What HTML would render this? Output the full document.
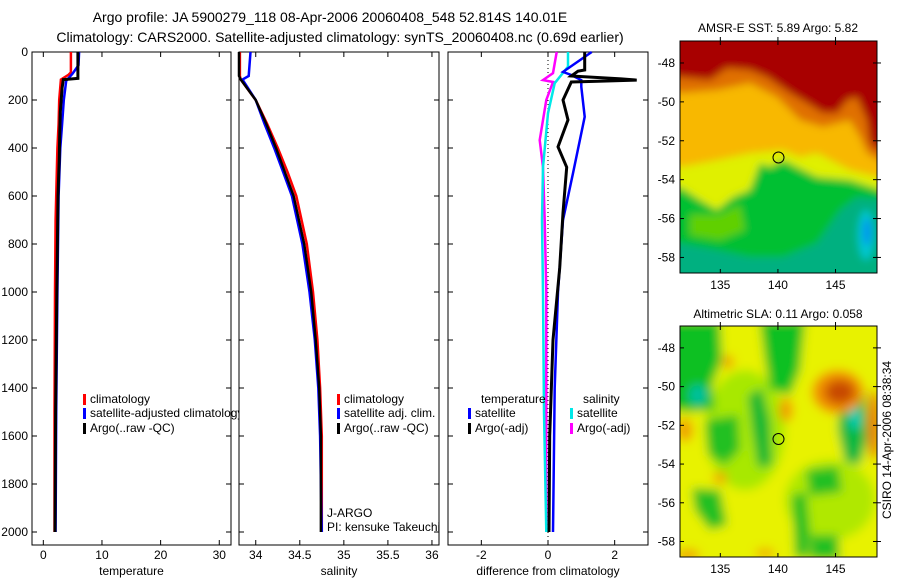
<!DOCTYPE html>
<html><head><meta charset="utf-8">
<style>
html,body{margin:0;padding:0;background:#fff;}
svg{display:block;font-family:"Liberation Sans",sans-serif;}
text{fill:#000;}
</style></head>
<body>
<svg id="fig" width="900" height="580" viewBox="0 0 900 580" xmlns="http://www.w3.org/2000/svg">
<defs>
<filter id="blur" x="-20%" y="-20%" width="140%" height="140%"><feGaussianBlur stdDeviation="4"/></filter>
<filter id="blur2" x="-20%" y="-20%" width="140%" height="140%"><feGaussianBlur stdDeviation="5"/></filter>
<clipPath id="clipMap1"><rect x="680" y="41" width="197" height="232"/></clipPath>
<clipPath id="clipMap2"><rect x="680" y="326" width="197" height="231"/></clipPath>
</defs>
<text x="330" y="22" font-size="14" text-anchor="middle">Argo profile: JA 5900279_118 08-Apr-2006 20060408_548 52.814S 140.01E</text>
<text x="340" y="42" font-size="14" text-anchor="middle">Climatology: CARS2000. Satellite-adjusted climatology: synTS_20060408.nc (0.69d earlier)</text>

<!-- Map 1 -->
<g>
<text x="778" y="32" font-size="12" text-anchor="middle">AMSR-E SST: 5.89 Argo: 5.82</text>
<g clip-path="url(#clipMap1)">
<g filter="url(#blur)">
<rect x="670" y="30" width="220" height="260" fill="#00b080"/>
<polygon fill="#00c030" points="670,190 680,187 700,200 717,210 733,197 750,190 760,163 770,167 783,160 797,167 817,177 850,180 890,193 890,200 857,197 840,210 817,243 783,257 750,257 717,250 680,243 670,243"/>
<polygon fill="#60d000" points="690,215 720,215 740,205 745,230 720,240 690,235"/>
<polygon fill="#e0f000" points="670,160 680,167 717,160 750,153 783,150 800,157 817,153 850,170 890,180 890,193 850,180 817,177 797,167 783,160 770,167 760,163 750,190 733,197 717,210 700,200 680,187 670,190"/>
<polygon fill="#f8b800" points="670,90 680,93 717,90 750,83 777,97 800,120 823,127 850,120 860,137 867,153 890,167 890,180 850,170 817,153 800,157 783,150 750,153 717,160 680,167 670,160"/>
<polygon fill="#e07000" points="670,78 680,77 710,80 727,68 750,70 767,77 790,93 807,103 823,113 837,113 847,100 857,97 867,120 870,143 890,150 890,167 867,153 860,137 850,120 823,127 800,120 777,97 750,83 717,90 680,93 670,90"/>
<polygon fill="#a80000" points="670,30 890,30 890,150 877,150 870,143 867,120 857,97 847,100 837,113 823,113 807,103 790,93 767,77 750,70 727,68 710,80 680,77 670,78"/>
<ellipse cx="866" cy="235" rx="8" ry="25" fill="#00c8d0"/>
<ellipse cx="867" cy="232" rx="4" ry="14" fill="#0090f0"/>
</g>
</g>
<rect x="680" y="41" width="197" height="232" fill="none" stroke="#000" stroke-width="1"/>
<g id="map1axes"></g>
<circle cx="778.5" cy="157.5" r="5.5" fill="none" stroke="#000" stroke-width="1"/>
</g>

<!-- Map 2 -->
<g>
<text x="778" y="318" font-size="12" text-anchor="middle">Altimetric SLA: 0.11 Argo: 0.058</text>
<g clip-path="url(#clipMap2)">
<g filter="url(#blur2)">
<rect x="670" y="316" width="220" height="250" fill="#e8f200"/>
<ellipse cx="745" cy="430" rx="40" ry="60" fill="#a8e800"/>
<ellipse cx="830" cy="500" rx="45" ry="40" fill="#b0e800"/>
<polygon fill="#10c020" points="670,320 720,320 722,360 712,385 715,410 690,412 670,410"/>
<ellipse cx="698" cy="395" rx="9" ry="10" fill="#00c0a0"/>
<polygon fill="#10c020" points="760,320 805,320 800,370 790,395 770,390 765,360"/>
<polygon fill="#10b830" points="748,395 762,388 770,420 772,465 758,468 752,430"/>
<polygon fill="#20c020" points="705,420 738,415 740,450 725,465 708,455"/>
<polygon fill="#20c020" points="692,488 720,490 727,525 710,530 695,510"/>
<polygon fill="#20c020" points="792,495 806,492 810,530 808,558 795,558"/>
<polygon fill="#20c020" points="806,470 838,466 842,492 810,496"/>
<polygon fill="#20c020" points="810,535 838,535 840,560 810,560"/>
<polygon fill="#10b840" points="840,398 865,392 867,440 860,465 845,462 838,430"/>
<ellipse cx="855" cy="418" rx="5" ry="12" fill="#00d0c0"/>
<ellipse cx="838" cy="392" rx="26" ry="22" fill="#f09000"/>
<ellipse cx="840" cy="392" rx="15" ry="12" fill="#c84800"/>
<ellipse cx="874" cy="425" rx="7" ry="35" fill="#e88000"/>
<ellipse cx="685" cy="430" rx="8" ry="12" fill="#f0a000"/>
<ellipse cx="786" cy="410" rx="7" ry="12" fill="#f0a000"/>
<ellipse cx="728" cy="362" rx="6" ry="7" fill="#f0a800"/>
<ellipse cx="720" cy="478" rx="7" ry="6" fill="#f0a800"/>
<ellipse cx="688" cy="555" rx="12" ry="6" fill="#f0a800"/>
<ellipse cx="765" cy="553" rx="10" ry="5" fill="#f0b000"/>
</g>
</g>
<rect x="680" y="326" width="197" height="231" fill="none" stroke="#000" stroke-width="1"/>
<g id="map2axes"></g>
<circle cx="778.5" cy="439" r="5.5" fill="none" stroke="#000" stroke-width="1"/>
<text transform="translate(891,440) rotate(-90)" font-size="12" text-anchor="middle">CSIRO 14-Apr-2006 08:38:34</text>
</g>

<g id="panels"></g>
</svg>
<script>
// ---------- data ----------
const depthTicks = [0,200,400,600,800,1000,1200,1400,1600,1800,2000];
const tempTicks = [0,10,20,30];
const salTicks = [34,34.5,35,35.5,36];
const salTickLabels = ["34","34.5","35","35.5","36"];
const diffTicks = [-2,0,2];

const tDepthClim = [0,85,95,115,200,300,400,500,700,1000,1500,2000];
const tClim = [4.7,4.7,4.3,3.0,2.7,2.6,2.4,2.3,2.1,2.0,1.9,1.9];
const tDepthSat = [0,55,90,120,200,300,400,600,800,1000,1500,2000];
const tSat = [6.1,6.0,5.0,3.9,3.5,3.2,2.9,2.6,2.5,2.4,2.2,2.1];
const tDepthArgo = [0,110,115,150,250,350,450,600,800,1000,1500,2000];
const tArgo = [5.9,5.9,3.4,3.2,2.9,2.8,2.7,2.5,2.4,2.3,2.1,2.0];

const sDepth = [0,100,115,200,300,400,500,600,800,1000,1200,1400,1600,1800,2000];
const sClim = [33.82,33.82,33.83,34.0,34.13,34.25,34.36,34.46,34.58,34.65,34.7,34.73,34.75,34.75,34.75];
const sSat = [33.94,33.92,33.85,34.0,34.1,34.21,34.31,34.41,34.53,34.61,34.67,34.71,34.73,34.74,34.75];
const sArgo = [33.81,33.81,33.83,34.0,34.12,34.23,34.33,34.43,34.55,34.63,34.68,34.72,34.74,34.74,34.74];

const dDepthTSat = [0,83,96,117,145,270,505,700,1000,1400,2000];
const dTSat = [1.31,0.45,0.7,1.0,1.0,1.1,0.75,0.45,0.3,0.2,0.15];
const dDepthTArgo = [0,75,80,100,112,117,122,125,200,283,395,480,670,900,1200,1600,2000];
const dTArgo = [1.1,1.1,0.9,0.7,2.2,2.66,1.5,0.7,0.45,0.6,0.3,0.56,0.45,0.35,0.15,0.05,0.03];
const dDepthSSat = [0,61,130,255,480,700,1000,1500,2000];
const dSSat = [0.6,0.6,0.2,0,-0.15,-0.18,-0.15,-0.12,-0.05];
const dDepthSArgo = [0,88,117,125,200,367,480,700,1000,1500,2000];
const dSArgo = [0.26,0.15,-0.15,0.15,-0.05,-0.25,-0.15,-0.1,-0.05,-0.05,-0.05];

const latTicks = [-48,-50,-52,-54,-56,-58];
const lonTicks = [135,140,145];

// ---------- helpers ----------
const NS = "http://www.w3.org/2000/svg";
const root = document.getElementById('panels');
function mk(tag, attrs, parent){const e=document.createElementNS(NS,tag);for(const k in attrs)e.setAttribute(k,attrs[k]);(parent||root).appendChild(e);return e;}
const yTop=52, yScale=0.24, frameTop=52, frameBot=545;
function yD(d){return yTop+d*yScale;}

const panels = [
 {name:'temperature-panel', x0:32, x1:231, dmin:-1.93, dmax:32.0, ticks:tempTicks, labels:tempTicks.map(String), xlabel:'temperature', yLabels:true},
 {name:'salinity-panel', x0:239, x1:439, dmin:33.81, dmax:36.08, ticks:salTicks, labels:salTickLabels, xlabel:'salinity'},
 {name:'difference-panel', x0:448, x1:648, dmin:-3.0, dmax:3.0, ticks:diffTicks, labels:diffTicks.map(String), xlabel:'difference from climatology'}
];
function xf(p,v){return p.x0+(v-p.dmin)/(p.dmax-p.dmin)*(p.x1-p.x0);}

function drawPanel(p){
  const g=mk('g',{});
  
  
  const r=mk('rect',{x:p.x0,y:frameTop,width:p.x1-p.x0,height:frameBot-frameTop,fill:'#fff',stroke:'#000','stroke-width':1},g);
  
  
  p.g=g;
  depthTicks.forEach(d=>{
    const y=yD(d);
    mk('line',{x1:p.x0,x2:p.x0+5,y1:y,y2:y,stroke:'#000'},g);
    mk('line',{x1:p.x1-5,x2:p.x1,y1:y,y2:y,stroke:'#000'},g);
    if(p.yLabels){
      const t=mk('text',{x:p.x0-4,y:y+4,'font-size':12,'text-anchor':'end'},g);
      t.textContent=d;
      
      
    }
  });
  p.ticks.forEach((v,i)=>{
    const x=xf(p,v);
    mk('line',{x1:x,x2:x,y1:frameBot,y2:frameBot-5,stroke:'#000'},g);
    mk('line',{x1:x,x2:x,y1:frameTop,y2:frameTop+5,stroke:'#000'},g);
    const t=mk('text',{x:x,y:559,'font-size':12,'text-anchor':'middle'},g);
    t.textContent=p.labels[i];
    
    
  });
  const xl=mk('text',{x:(p.x0+p.x1)/2,y:575,'font-size':12,'text-anchor':'middle'},g);
  xl.textContent=p.xlabel;
  
  
}
function series(p,depths,vals,color,name,w){
  const pts=depths.map((d,i)=>xf(p,vals[i]).toFixed(1)+','+yD(d).toFixed(1)).join(' ');
  const l=mk('polyline',{points:pts,fill:'none',stroke:color,'stroke-width':w||2.5,'stroke-linejoin':'miter'},p.g);
  
  
}
function legend(g,x,y,color,label,name){
  if(color) mk('rect',{x:x,y:y-9,width:3,height:11,fill:color},g);
  const t=mk('text',{x:x+7,y:y,'font-size':12},g);
  t.textContent=label;
  
  
}

// panel 1
drawPanel(panels[0]);
series(panels[0],tDepthClim,tClim,'#ff0000','temp-climatology-line');
series(panels[0],tDepthSat,tSat,'#0000ff','temp-satellite-line');
series(panels[0],tDepthArgo,tArgo,'#000','temp-argo-line',3);
legend(panels[0].g,83,403,'#ff0000','climatology','legend-climatology');
legend(panels[0].g,83,417,'#0000ff','satellite-adjusted climatology','legend-satellite-adjusted');
legend(panels[0].g,83,432,'#000','Argo(..raw -QC)','legend-argo');

// panel 2
drawPanel(panels[1]);
series(panels[1],sDepth,sClim,'#ff0000','sal-climatology-line');
series(panels[1],sDepth,sSat,'#0000ff','sal-satellite-line');
series(panels[1],sDepth,sArgo,'#000','sal-argo-line');
legend(panels[1].g,337,403,'#ff0000','climatology','legend-climatology');
legend(panels[1].g,337,417,'#0000ff','satellite adj. clim.','legend-satellite-adj-clim');
legend(panels[1].g,337,432,'#000','Argo(..raw -QC)','legend-argo');
legend(panels[1].g,320,517,null,'J-ARGO','float-program-label');
legend(panels[1].g,320,531,null,'PI: kensuke Takeuchi','pi-label');

// panel 3
drawPanel(panels[2]);
const zx=xf(panels[2],0);
const zl=mk('line',{x1:zx,x2:zx,y1:frameTop,y2:frameBot,stroke:'#000','stroke-dasharray':'1,3'},panels[2].g);


series(panels[2],dDepthSArgo,dSArgo,'#ff00ff','sal-argo-diff-line');
series(panels[2],dDepthSSat,dSSat,'#00e8e8','sal-satellite-diff-line');
series(panels[2],dDepthTSat,dTSat,'#0000ff','temp-satellite-diff-line');
series(panels[2],dDepthTArgo,dTArgo,'#000','temp-argo-diff-line',3);
legend(panels[2].g,474,403,null,'temperature','legend-temperature-heading');
legend(panels[2].g,468,417,'#0000ff','satellite','legend-temp-satellite');
legend(panels[2].g,468,432,'#000','Argo(-adj)','legend-temp-argo');
legend(panels[2].g,576,403,null,'salinity','legend-salinity-heading');
legend(panels[2].g,570,417,'#00e8e8','satellite','legend-sal-satellite');
legend(panels[2].g,570,432,'#ff00ff','Argo(-adj)','legend-sal-argo');

// map axes
function mapAxes(id,top,bottom,latTop,latBot){
  const g=document.getElementById(id);
  const lonX=v=>680+(v-131.5)/(148.6-131.5)*197;
  const latY=v=>top+(latTop-v)/(latTop-latBot)*(bottom-top);
  latTicks.forEach(v=>{
    const y=latY(v);
    mk('line',{x1:680,x2:684,y1:y,y2:y,stroke:'#000'},g);
    mk('line',{x1:873,x2:881,y1:y,y2:y,stroke:'#000'},g);
    const t=mk('text',{x:675,y:y+4,'font-size':12,'text-anchor':'end'},g);
    t.textContent=v;
    
    
  });
  lonTicks.forEach(v=>{
    const x=lonX(v);
    mk('line',{x1:x,x2:x,y1:top-4,y2:top+4,stroke:'#000'},g);
    mk('line',{x1:x,x2:x,y1:bottom-4,y2:bottom,stroke:'#000'},g);
    const t=mk('text',{x:x,y:bottom+16,'font-size':12,'text-anchor':'middle'},g);
    t.textContent=v;
    
    
  });
}
mapAxes('map1axes',41,273,-46.87,-58.8);
mapAxes('map2axes',326,557,-46.87,-58.8);
</script>
</body></html>
